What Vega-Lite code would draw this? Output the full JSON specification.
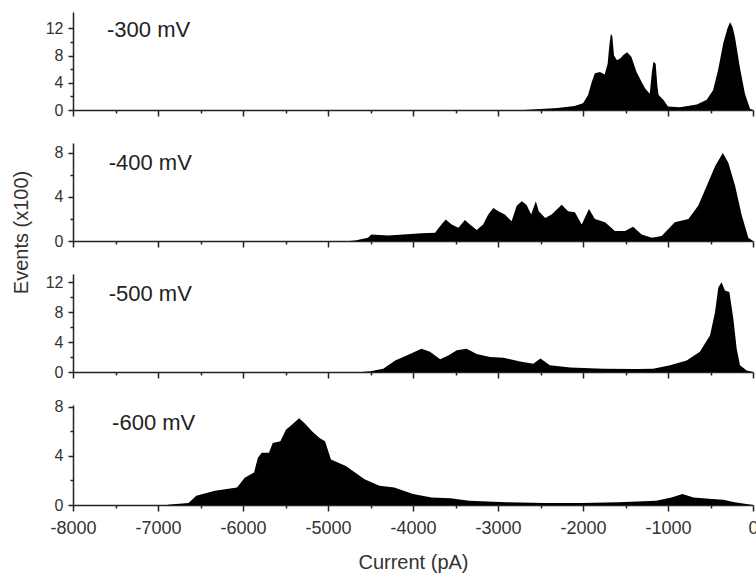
{
  "$schema": "https://vega.github.io/schema/vega-lite/v6.json",
  "background": "white",
  "padding": {"left": 11, "top": 12, "right": 0, "bottom": 5},
  "spacing": 33,
  "bounds": "flush",
  "config": {
    "view": {"stroke": null},
    "font": "Liberation Sans",
    "axis": {
      "grid": false,
      "domainColor": "#222",
      "domainWidth": 1.5,
      "tickColor": "#222",
      "tickWidth": 1.5,
      "labelColor": "#333",
      "titleColor": "#333",
      "labelFont": "Liberation Sans",
      "titleFont": "Liberation Sans",
      "titleFontWeight": "normal",
      "labelOverlap": false,
      "labelFlush": false
    }
  },
  "datasets": {
    "h300": [
      {"current": -8000, "events": 0}, {"current": -2700, "events": 0}, {"current": -2500, "events": 0.15},
      {"current": -2300, "events": 0.3}, {"current": -2100, "events": 0.6}, {"current": -2000, "events": 1.0},
      {"current": -1940, "events": 2.2}, {"current": -1900, "events": 4.0}, {"current": -1860, "events": 5.4},
      {"current": -1800, "events": 5.6}, {"current": -1745, "events": 5.2}, {"current": -1710, "events": 6.8},
      {"current": -1690, "events": 9.5}, {"current": -1672, "events": 11.2}, {"current": -1655, "events": 10.8},
      {"current": -1635, "events": 8.0}, {"current": -1600, "events": 7.3}, {"current": -1560, "events": 7.6},
      {"current": -1525, "events": 8.1}, {"current": -1480, "events": 8.5}, {"current": -1430, "events": 7.8},
      {"current": -1370, "events": 5.6}, {"current": -1310, "events": 4.1}, {"current": -1270, "events": 3.2},
      {"current": -1215, "events": 2.4}, {"current": -1190, "events": 5.5}, {"current": -1172, "events": 7.1},
      {"current": -1145, "events": 6.8}, {"current": -1125, "events": 3.5}, {"current": -1110, "events": 2.2},
      {"current": -1055, "events": 1.5}, {"current": -1000, "events": 0.5}, {"current": -860, "events": 0.4},
      {"current": -660, "events": 0.8}, {"current": -545, "events": 1.5}, {"current": -470, "events": 2.9},
      {"current": -410, "events": 5.9}, {"current": -350, "events": 9.8}, {"current": -300, "events": 12.0},
      {"current": -270, "events": 12.9}, {"current": -240, "events": 12.2}, {"current": -212, "events": 10.7},
      {"current": -155, "events": 6.3}, {"current": -95, "events": 2.4}, {"current": -35, "events": 0.2},
      {"current": 0, "events": 0}
    ],
    "h400": [
      {"current": -8000, "events": 0}, {"current": -4750, "events": 0}, {"current": -4680, "events": 0.05},
      {"current": -4530, "events": 0.3}, {"current": -4490, "events": 0.6}, {"current": -4290, "events": 0.5},
      {"current": -3900, "events": 0.7}, {"current": -3740, "events": 0.75}, {"current": -3680, "events": 1.36},
      {"current": -3615, "events": 1.96}, {"current": -3545, "events": 1.5}, {"current": -3465, "events": 1.2},
      {"current": -3390, "events": 1.9}, {"current": -3330, "events": 1.5}, {"current": -3250, "events": 1.0},
      {"current": -3175, "events": 1.5}, {"current": -3115, "events": 2.4}, {"current": -3055, "events": 3.0},
      {"current": -2995, "events": 2.7}, {"current": -2920, "events": 2.4}, {"current": -2840, "events": 1.8},
      {"current": -2780, "events": 3.2}, {"current": -2720, "events": 3.6}, {"current": -2665, "events": 3.3},
      {"current": -2610, "events": 2.4}, {"current": -2555, "events": 3.6}, {"current": -2520, "events": 2.7},
      {"current": -2445, "events": 2.1}, {"current": -2370, "events": 2.4}, {"current": -2250, "events": 3.3},
      {"current": -2175, "events": 2.7}, {"current": -2095, "events": 2.6}, {"current": -2015, "events": 1.5},
      {"current": -1930, "events": 2.9}, {"current": -1860, "events": 2.0}, {"current": -1740, "events": 1.7},
      {"current": -1625, "events": 0.9}, {"current": -1505, "events": 0.9}, {"current": -1410, "events": 1.3},
      {"current": -1310, "events": 0.6}, {"current": -1190, "events": 0.3}, {"current": -1075, "events": 0.45},
      {"current": -920, "events": 1.7}, {"current": -760, "events": 2.0}, {"current": -645, "events": 3.2},
      {"current": -545, "events": 5.0}, {"current": -445, "events": 6.8}, {"current": -355, "events": 8.0},
      {"current": -290, "events": 7.1}, {"current": -210, "events": 5.0}, {"current": -135, "events": 2.4},
      {"current": -55, "events": 0.3}, {"current": 0, "events": 0}
    ],
    "h500": [
      {"current": -8000, "events": 0}, {"current": -4600, "events": 0}, {"current": -4500, "events": 0.1},
      {"current": -4350, "events": 0.44}, {"current": -4210, "events": 1.55}, {"current": -4075, "events": 2.2},
      {"current": -3900, "events": 3.1}, {"current": -3800, "events": 2.7}, {"current": -3680, "events": 1.7},
      {"current": -3585, "events": 2.2}, {"current": -3485, "events": 2.9}, {"current": -3370, "events": 3.1},
      {"current": -3250, "events": 2.4}, {"current": -3095, "events": 2.0}, {"current": -2935, "events": 1.9},
      {"current": -2740, "events": 1.4}, {"current": -2585, "events": 1.1}, {"current": -2500, "events": 1.8},
      {"current": -2390, "events": 0.9}, {"current": -2150, "events": 0.6}, {"current": -1760, "events": 0.44},
      {"current": -1370, "events": 0.4}, {"current": -1175, "events": 0.44}, {"current": -975, "events": 0.9},
      {"current": -780, "events": 1.55}, {"current": -625, "events": 2.7}, {"current": -505, "events": 4.9},
      {"current": -447, "events": 8.0}, {"current": -408, "events": 11.3}, {"current": -370, "events": 12.0},
      {"current": -330, "events": 10.9}, {"current": -278, "events": 10.7}, {"current": -231, "events": 7.1},
      {"current": -192, "events": 3.1}, {"current": -153, "events": 0.9}, {"current": -75, "events": 0.2},
      {"current": 0, "events": 0}
    ],
    "h600": [
      {"current": -8000, "events": 0}, {"current": -6900, "events": 0}, {"current": -6860, "events": 0.05},
      {"current": -6640, "events": 0.16}, {"current": -6550, "events": 0.75}, {"current": -6330, "events": 1.16},
      {"current": -6070, "events": 1.43}, {"current": -5980, "events": 2.23}, {"current": -5870, "events": 2.64},
      {"current": -5825, "events": 3.85}, {"current": -5780, "events": 4.25}, {"current": -5695, "events": 4.25},
      {"current": -5650, "events": 5.06}, {"current": -5560, "events": 5.19}, {"current": -5495, "events": 6.13},
      {"current": -5405, "events": 6.67}, {"current": -5340, "events": 7.07}, {"current": -5275, "events": 6.67},
      {"current": -5185, "events": 6.0}, {"current": -5100, "events": 5.46}, {"current": -5035, "events": 5.19},
      {"current": -4965, "events": 3.71}, {"current": -4790, "events": 3.17}, {"current": -4570, "events": 2.1},
      {"current": -4395, "events": 1.56}, {"current": -4220, "events": 1.43}, {"current": -4000, "events": 0.89},
      {"current": -3780, "events": 0.62}, {"current": -3560, "events": 0.54}, {"current": -3340, "events": 0.35},
      {"current": -2900, "events": 0.22}, {"current": -2460, "events": 0.16}, {"current": -2020, "events": 0.16},
      {"current": -1580, "events": 0.22}, {"current": -1140, "events": 0.35}, {"current": -960, "events": 0.62},
      {"current": -830, "events": 0.89}, {"current": -700, "events": 0.62}, {"current": -480, "events": 0.48},
      {"current": -350, "events": 0.43}, {"current": -215, "events": 0.22}, {"current": 0, "events": 0}
    ]
  },
  "vconcat": [
    {
      "width": 680, "height": 98,
      "layer": [
        {
          "data": {"name": "h300"},
          "mark": {"type": "area", "color": "#000", "interpolate": "linear"},
          "encoding": {
            "x": {"field": "current", "type": "quantitative", "scale": {"domain": [-8000, 0], "nice": false},
              "axis": {"values": [-8000,-7500,-7000,-6500,-6000,-5500,-5000,-4500,-4000,-3500,-3000,-2500,-2000,-1500,-1000,-500,0],
                "tickCount": 40, "labels": false, "title": null,
                "tickSize": {"condition": {"test": "datum.value % 1000 === 0", "value": 6}, "value": 3}}},
            "y": {"field": "events", "type": "quantitative", "scale": {"domain": [0, 14.4], "nice": false},
              "axis": {"values": [0,2,4,6,8,10,12], "tickCount": 40, "format": "d", "labelExpr": "datum.value % 4 === 0 ? datum.label : ''",
                "labelOverlap": false, "labelFontSize": 16, "labelPadding": 5, "title": null,
                "tickSize": {"condition": {"test": "datum.value % 4 === 0", "value": 5}, "value": 3}}}
          }
        },
        {
          "data": {"values": [{"label": "-300 mV"}]},
          "mark": {"type": "text", "align": "left", "baseline": "middle", "fontSize": 22, "color": "#222"},
          "encoding": {
            "x": {"datum": -7600, "type": "quantitative"},
            "y": {"datum": 11.8, "type": "quantitative"},
            "text": {"field": "label"}
          }
        }
      ]
    },
    {
      "width": 680, "height": 98,
      "layer": [
        {
          "data": {"name": "h400"},
          "mark": {"type": "area", "color": "#000", "interpolate": "linear"},
          "encoding": {
            "x": {"field": "current", "type": "quantitative", "scale": {"domain": [-8000, 0], "nice": false},
              "axis": {"values": [-8000,-7500,-7000,-6500,-6000,-5500,-5000,-4500,-4000,-3500,-3000,-2500,-2000,-1500,-1000,-500,0],
                "tickCount": 40, "labels": false, "title": null,
                "tickSize": {"condition": {"test": "datum.value % 1000 === 0", "value": 6}, "value": 3}}},
            "y": {"field": "events", "type": "quantitative", "scale": {"domain": [0, 8.9], "nice": false},
              "axis": {"values": [0,2,4,6,8], "tickCount": 40, "format": "d", "labelExpr": "datum.value % 4 === 0 ? datum.label : ''",
                "labelOverlap": false, "labelFontSize": 16, "labelPadding": 5,
                "title": "Events (x100)", "titleFontSize": 20, "titleX": -52, "titleY": 89,
                "titleAngle": 270, "titleBaseline": "middle", "titleAlign": "center",
                "tickSize": {"condition": {"test": "datum.value % 4 === 0", "value": 5}, "value": 3}}}
          }
        },
        {
          "data": {"values": [{"label": "-400 mV"}]},
          "mark": {"type": "text", "align": "left", "baseline": "middle", "fontSize": 22, "color": "#222"},
          "encoding": {
            "x": {"datum": -7580, "type": "quantitative"},
            "y": {"datum": 7.1, "type": "quantitative"},
            "text": {"field": "label"}
          }
        }
      ]
    },
    {
      "width": 680, "height": 98,
      "layer": [
        {
          "data": {"name": "h500"},
          "mark": {"type": "area", "color": "#000", "interpolate": "linear"},
          "encoding": {
            "x": {"field": "current", "type": "quantitative", "scale": {"domain": [-8000, 0], "nice": false},
              "axis": {"values": [-8000,-7500,-7000,-6500,-6000,-5500,-5000,-4500,-4000,-3500,-3000,-2500,-2000,-1500,-1000,-500,0],
                "tickCount": 40, "labels": false, "title": null,
                "tickSize": {"condition": {"test": "datum.value % 1000 === 0", "value": 6}, "value": 3}}},
            "y": {"field": "events", "type": "quantitative", "scale": {"domain": [0, 13.1], "nice": false},
              "axis": {"values": [0,2,4,6,8,10,12], "tickCount": 40, "format": "d", "labelExpr": "datum.value % 4 === 0 ? datum.label : ''",
                "labelOverlap": false, "labelFontSize": 16, "labelPadding": 5, "title": null,
                "tickSize": {"condition": {"test": "datum.value % 4 === 0", "value": 5}, "value": 3}}}
          }
        },
        {
          "data": {"values": [{"label": "-500 mV"}]},
          "mark": {"type": "text", "align": "left", "baseline": "middle", "fontSize": 22, "color": "#222"},
          "encoding": {
            "x": {"datum": -7580, "type": "quantitative"},
            "y": {"datum": 10.4, "type": "quantitative"},
            "text": {"field": "label"}
          }
        }
      ]
    },
    {
      "width": 680, "height": 100,
      "layer": [
        {
          "data": {"name": "h600"},
          "mark": {"type": "area", "color": "#000", "interpolate": "linear"},
          "encoding": {
            "x": {"field": "current", "type": "quantitative", "scale": {"domain": [-8000, 0], "nice": false},
              "axis": {"values": [-8000,-7500,-7000,-6500,-6000,-5500,-5000,-4500,-4000,-3500,-3000,-2500,-2000,-1500,-1000,-500,0],
                "tickCount": 40,
                "labelExpr": "datum.value % 1000 === 0 ? (datum.value === 0 ? '0' : '-' + format(-datum.value, 'd')) : ''",
                "labelOverlap": false, "labelFontSize": 18, "labelPadding": 8,
                "title": "Current (pA)", "titleFontSize": 20, "titlePadding": 15,
                "tickSize": {"condition": {"test": "datum.value % 1000 === 0", "value": 6}, "value": 3}}},
            "y": {"field": "events", "type": "quantitative", "scale": {"domain": [0, 8.15], "nice": false},
              "axis": {"values": [0,2,4,6,8], "tickCount": 40, "format": "d", "labelExpr": "datum.value % 4 === 0 ? datum.label : ''",
                "labelOverlap": false, "labelFontSize": 16, "labelPadding": 5, "title": null,
                "tickSize": {"condition": {"test": "datum.value % 4 === 0", "value": 5}, "value": 3}}}
          }
        },
        {
          "data": {"values": [{"label": "-600 mV"}]},
          "mark": {"type": "text", "align": "left", "baseline": "middle", "fontSize": 22, "color": "#222"},
          "encoding": {
            "x": {"datum": -7540, "type": "quantitative"},
            "y": {"datum": 6.67, "type": "quantitative"},
            "text": {"field": "label"}
          }
        }
      ]
    }
  ]
}
